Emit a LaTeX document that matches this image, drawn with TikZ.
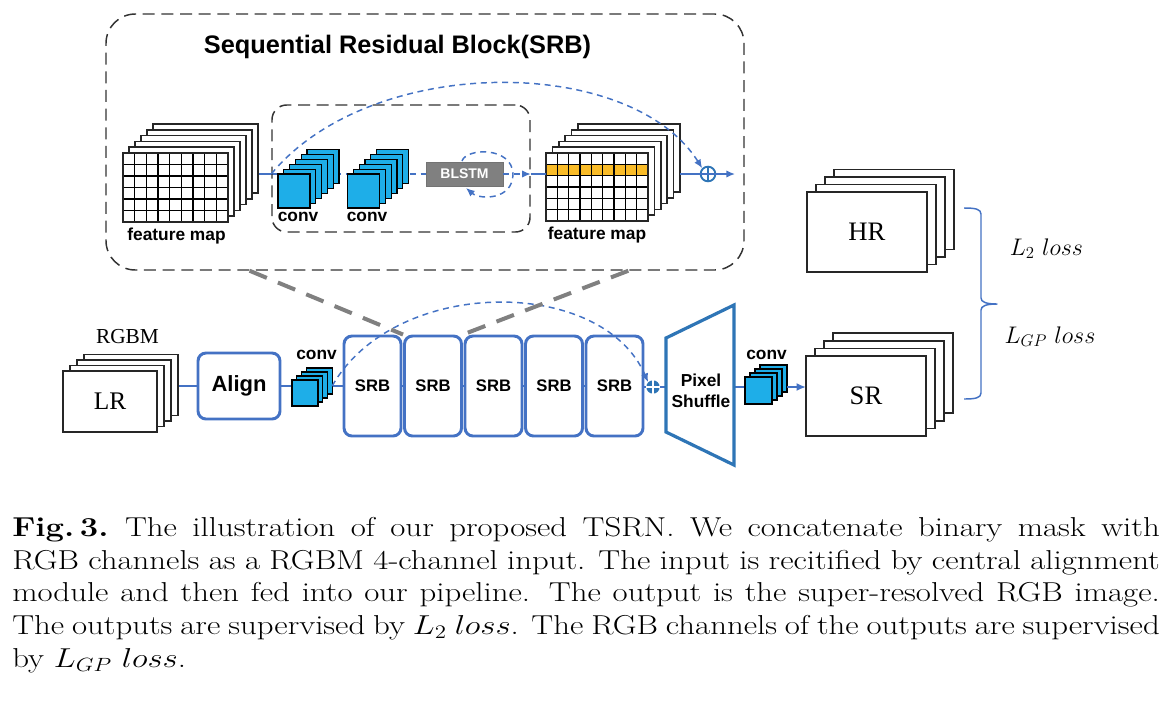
\documentclass[tikz,border=0pt]{standalone}
\usepackage{fix-cm}
\usepackage{graphicx}
\usepackage{fontspec}
\newfontfamily\arialf{Liberation Sans}
\newfontfamily\timesf{Liberation Serif}
\usetikzlibrary{arrows.meta,calc}
\pgfdeclarelayer{bg}
\pgfsetlayers{bg,main}
\definecolor{lblue}{RGB}{68,114,196}
\definecolor{dblue}{RGB}{46,117,182}
\definecolor{cblue}{RGB}{30,174,232}
\definecolor{orng}{RGB}{250,188,40}
\definecolor{bgray}{RGB}{128,128,128}
\newcommand\capline[1]{\scalebox{1.2}[1]{\makebox[717.2pt][s]{#1}}}
\begin{document}
\begin{tikzpicture}[x=0.75pt,y=-0.75pt,
  sheet/.style={draw=black!85, fill=white, line width=1.1pt, inner sep=0pt, outer sep=0pt},
  csq/.style={draw=black, fill=cblue, line width=0.9pt, inner sep=0pt, outer sep=0pt, minimum width=#1, minimum height=#1},
  sfb/.style={font=\arialf\bfseries\fontsize{#1}{#1}\selectfont},
  gridl/.style={draw=black, line width=1.2pt},
  dashbox/.style={draw=black!80, line width=1.1pt, dash pattern=on 9pt off 5pt},
  graydash/.style={draw=bgray, line width=3pt, dash pattern=on 14pt off 9pt},
  mainline/.style={draw=lblue, line width=2.2pt},
  thinblue/.style={draw=lblue, line width=1.1pt},
  bluedash/.style={draw=lblue, line width=1.1pt, dash pattern=on 4.5pt off 3.5pt},
  srbbox/.style={draw=lblue, line width=2.2pt, rounded corners=6pt, minimum width=42.75pt, minimum height=75pt, inner sep=0pt, sfb=12.5},
  tip/.style={-{Latex[length=6.5pt,width=5.5pt]}},
  capstyle/.style={anchor=base west, inner sep=0pt, font=\fontsize{20.5}{24}\selectfont}
]
\begin{pgfonlayer}{bg}
\fill[white] (0,0) rectangle (1170,708);
\end{pgfonlayer}
\useasboundingbox (0,0) rectangle (1170,708);

% ---------- SRB detail box ----------
\node[dashbox, rounded corners=22pt, minimum width=478.5pt, minimum height=192pt] (outer) at (425,142) {};
\node[anchor=base, sfb=19, inner sep=0pt] (title) at (397.5,53) {Sequential Residual Block(SRB)};
\node[dashbox, rounded corners=11pt, minimum width=193.5pt, minimum height=95.25pt] (inner) at (401,168.5) {};

% left feature map
\foreach \k in {5,4,...,1}
  \node[sheet, minimum width=78.75pt, minimum height=51.75pt] (fl\k) at ({175.5+6*\k},{187.5-5.8*\k}) {};
\node[sheet, minimum width=78.75pt, minimum height=51.75pt] (fl) at (175.5,187.5) {};
\foreach \i in {1,...,8} \draw[gridl] ({123+\i*105/9},153) -- ({123+\i*105/9},222);
\foreach \j in {1,...,5} \draw[gridl] (123,{153+\j*11.5}) -- (228,{153+\j*11.5});
\node[anchor=base, sfb=13, inner sep=0pt] (flab) at (176.5,240.5) {feature map};

% conv stacks (top)
\foreach \k in {5,4,...,1}
  \node[csq=24pt, minimum height=25.5pt] (ct\k) at ({294+5.8*\k},{191-4.9*\k}) {};
\node[csq=24pt, minimum height=25.5pt] (ct) at (294,191) {};
\foreach \k in {5,4,...,1}
  \node[csq=24pt, minimum height=25.5pt] (cu\k) at ({363.5+5.8*\k},{191-4.9*\k}) {};
\node[csq=24pt, minimum height=25.5pt] (cu) at (363.5,191) {};
\node[anchor=base, sfb=13, inner sep=0pt] (ctlab) at (298,221.7) {conv};
\node[anchor=base, sfb=13, inner sep=0pt] (culab) at (367,221.7) {conv};

% BLSTM
\node[fill=bgray, draw=black!55, line width=0.6pt, minimum width=57.75pt, minimum height=18pt, inner sep=0pt, text=white, sfb=10.5] (blstm) at (464.5,174) {BLSTM};

% right feature map
\foreach \k in {5,4,...,1}
  \node[sheet, minimum width=76.5pt, minimum height=51pt] (fr\k) at ({597+6.4*\k},{187-5.8*\k}) {};
\node[sheet, minimum width=76.5pt, minimum height=51pt] (fr) at (597,187) {};
\fill[orng] (546,{153+68/6}) rectangle (648,{153+2*68/6});
\foreach \i in {1,...,8} \draw[gridl] ({546+\i*102/9},153) -- ({546+\i*102/9},221);
\foreach \j in {1,...,5} \draw[gridl] (546,{153+\j*68/6}) -- (648,{153+\j*68/6});
\draw[sheet, fill=none] (fr.north west) rectangle (fr.south east);
\draw[sheet, fill=none] (fl.north west) rectangle (fl.south east);
\node[anchor=base, sfb=13, inner sep=0pt] (frlab) at (597,239.3) {feature map};

% top plus
\node[circle, draw=dblue, line width=1.4pt, minimum size=11pt, inner sep=0pt] (tp) at (708,174) {};
\draw[dblue, line width=1.4pt] (tp.north) -- (tp.south);
\coordinate (tend) at (735,174);

% top connectors
\begin{pgfonlayer}{bg}
\draw[thinblue] (fl5.east |- blstm) -- (inner.west |- blstm);
\draw[bluedash] (inner.west |- blstm) -- (blstm.west);
\end{pgfonlayer}
\draw[bluedash, tip] (blstm.east) -- (inner.east |- blstm);
\draw[thinblue] (inner.east |- blstm) -- (fr.west |- blstm);
\draw[thinblue, tip] (fr5.east |- blstm) -- (tend);
\draw[bluedash, tip] (inner.west |- blstm) .. controls (370,54) and (630,54) .. (tp.north west);
\draw[bluedash, tip] ($(blstm)+(-2.5,-13)$) .. controls ($(blstm)+(1.5,-26)$) and ($(blstm)+(47.5,-28)$) .. ($(blstm)+(48.5,0)$)
   .. controls ($(blstm)+(48.5,26)$) and ($(blstm)+(15.5,26)$) .. ($(blstm)+(1.5,14)$);

% ---------- main pipeline ----------
\foreach \k in {3,2,1}
  \node[sheet, minimum width=70.5pt, minimum height=45.75pt] (lr\k) at ({110+7*\k},{401.5-5.5*\k}) {};
\node[sheet, minimum width=70.5pt, minimum height=45.75pt, font=\timesf\fontsize{19}{19}\selectfont] (lr) at (110,401.5) {LR};
\node[anchor=base, inner sep=0pt, font=\timesf\fontsize{16}{16}\selectfont] (rgbm) at (127.5,343) {RGBM};

\node[draw=lblue, line width=2.2pt, rounded corners=6pt, minimum width=61.5pt, minimum height=49.5pt, inner sep=0pt, sfb=16.5] (align) at (239,386) {Align};

\foreach \k in {3,2,1}
  \node[csq=19.5pt] (ca\k) at ({305+4.7*\k},{393-4*\k}) {};
\node[csq=19.5pt] (ca) at (305,393) {};
\node[anchor=base, sfb=13, inner sep=0pt] (calab) at (316.5,359.3) {conv};

\foreach \i/\x in {1/372.5,2/433,3/493.5,4/554,5/614.5}
  \node[srbbox] (srb\i) at (\x,386) {SRB};

\node[circle, fill=dblue, minimum size=10pt, inner sep=0pt] (pl) at (653,387) {};
\draw[white, line width=0.8pt] (pl.north) -- (pl.south) (pl.west) -- (pl.east);

\coordinate (psA) at (666,338);
\coordinate (psB) at (734,305);
\coordinate (psC) at (734,465);
\coordinate (psD) at (666,432);
\draw[draw=dblue, line width=2.4pt, line join=miter] (psA) -- (psB) -- (psC) -- (psD) -- cycle;
\node[align=center, inner sep=0pt, font=\arialf\bfseries\fontsize{13}{15.75}\selectfont] (ps) at (701,391) {Pixel\\Shuffle};

\foreach \k in {3,2,1}
  \node[csq=20.25pt] (cb\k) at ({758.5+5*\k},{390.5-4*\k}) {};
\node[csq=20.25pt] (cb) at (758.5,390.5) {};
\node[anchor=base, sfb=13, inner sep=0pt] (cblab) at (766.5,359.3) {conv};

% HR and SR stacks
\foreach \k in {3,2,1}
  \node[sheet, minimum width=90pt, minimum height=60pt] (hr\k) at ({867+9*\k},{232-7.5*\k}) {};
\node[sheet, minimum width=90pt, minimum height=60pt, font=\timesf\fontsize{20}{20}\selectfont] (hr) at (867,232) {HR};
\foreach \k in {3,2,1}
  \node[sheet, minimum width=90pt, minimum height=60pt] (sr\k) at ({866+9*\k},{396-7.6*\k}) {};
\node[sheet, minimum width=90pt, minimum height=60pt, font=\timesf\fontsize{20}{20}\selectfont] (sr) at (866,396) {SR};

% pipeline connectors
\begin{pgfonlayer}{bg}
\draw[mainline] (lr3.east |- align.west) -- (align.west);
\draw[mainline] (align.east) -- (align.east -| ca.west);
\draw[mainline] (ca3.east |- srb1.west) -- (srb1.west);
\foreach \i [evaluate=\i as \j using int(\i+1)] in {1,...,4}
  \draw[mainline] (srb\i.east) -- (srb\j.west);
\draw[mainline] (srb5.east |- pl) -- (pl.west);
\draw[mainline] (pl.east) -- (psA |- pl);
\draw[mainline] (psB |- pl) -- (cb.west |- pl);
\end{pgfonlayer}
\draw[mainline, -{Latex[length=7pt,width=6pt]}] (cb3.east |- pl) -- (sr.west |- pl);
\draw[bluedash, tip] (ca3.east |- srb1.west) .. controls (395,276) and (602,276) .. (pl.north west);

% zoom lines
\draw[graydash] ($(outer.south west)!0.2257!(outer.south east)$) -- (srb2.north west);
\draw[graydash] ($(outer.south west)!0.818!(outer.south east)$) -- (srb2.north east);

% brace
\coordinate (b1) at (964,208);
\coordinate (b3) at (997,304);
\coordinate (b4) at (964,399);
\draw[thinblue, line join=round] (b1) .. controls (975,208) and (981,209) .. (981,214) -- (981,298)
   .. controls (981,302) and (986,304) .. (b3) .. controls (986,304) and (981,306) .. (981,310) -- (981,393)
   .. controls (981,398) and (975,399) .. (b4);

% loss labels
\node[anchor=base, inner sep=0pt, font=\fontsize{18}{18}\selectfont] (l2) at (1046.5,255) {$L_2\ loss$};
\node[anchor=base, inner sep=0pt, font=\fontsize{18}{18}\selectfont] (lgp) at (1050,343) {$L_{GP}\ loss$};

% caption
\node[capstyle] (c1) at (12,536.7) {\capline{\textbf{Fig.\,3.}\enspace The illustration of our proposed TSRN. We concatenate binary mask with}};
\node[capstyle] (c2) at (12,569.3) {\capline{RGB channels as a RGBM 4-channel input. The input is recitified by central alignment}};
\node[capstyle] (c3) at (12,601.9) {\capline{module and then fed into our pipeline. The output is the super-resolved RGB image.}};
\node[capstyle] (c4) at (12,634.5) {\capline{The outputs are supervised by $L_2$ $loss$. The RGB channels of the outputs are supervised}};
\node[capstyle] (c5) at (12,667.1) {\scalebox{1.2}[1]{by $L_{GP}$ $loss$.}};
\end{tikzpicture}
\end{document}
